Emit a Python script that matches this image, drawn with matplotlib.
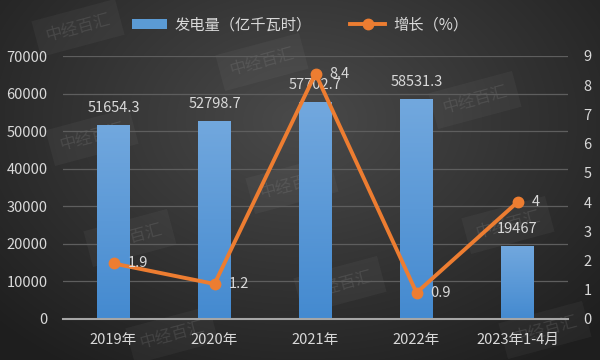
import numpy as np
import matplotlib
matplotlib.use("Agg")
import matplotlib.pyplot as plt
from matplotlib.lines import Line2D
from matplotlib.patches import Patch

plt.rcParams['font.family'] = ['Noto Sans CJK SC', 'DejaVu Sans']

categories = ["2019年", "2020年", "2021年", "2022年", "2023年1-4月"]
generation = [51654.3, 52798.7, 57702.7, 58531.3, 19467]
growth = [1.9, 1.2, 8.4, 0.9, 4]
bar_labels = ["51654.3", "52798.7", "57702.7", "58531.3", "19467"]
growth_labels = ["1.9", "1.2", "8.4", "0.9", "4"]
legend_bar = "发电量（亿千瓦时）"
legend_line = "增长（%）"

TXT = "#d9d9d9"
ORANGE = "#ed7d31"

fig = plt.figure(figsize=(6, 3.6), dpi=100)

# background radial gradient
bg = fig.add_axes([0, 0, 1, 1], zorder=-10)
yy, xx = np.mgrid[0:360, 0:600]
r = np.sqrt(((xx - 300) / 420.0) ** 2 + ((yy - 120) / 300.0) ** 2)
r = np.clip(r, 0, 1)
c0 = np.array([0x4a, 0x4a, 0x4a]) / 255
c1 = np.array([0x1e, 0x1e, 0x1e]) / 255
img = c0[None, None, :] * (1 - r[..., None]) + c1[None, None, :] * r[..., None]
bg.imshow(img, aspect='auto', extent=[0, 1, 0, 1])
bg.axis('off')

# watermarks
wm_pos = [(78, 28), (262, 62), (92, 137), (292, 185), (130, 238), (172, 335),
          (475, 100), (340, 285), (508, 225), (545, 330)]
for (px, py) in wm_pos:
    fig.text(px / 600, 1 - py / 360, "中经百汇", rotation=15, ha='center', va='center',
             fontsize=12, color=(0.55, 0.55, 0.55, 0.22), zorder=-5,
             bbox=dict(boxstyle='square,pad=0.6', facecolor=(1, 1, 1, 0.04), edgecolor='none'))

ax = fig.add_axes([63 / 600, 1 - 319 / 360, 505 / 600, 263 / 360])
ax.patch.set_alpha(0)
x = np.arange(len(categories))
bars = ax.bar(x, generation, width=0.32, color="#5b9bd5", zorder=2)

# gradient fill for bars
grad = np.linspace(0, 1, 100)[:, None]
top_c = np.array([0x72, 0xa8, 0xde]) / 255
bot_c = np.array([0x44, 0x8a, 0xd0]) / 255
gimg = top_c[None, None, :] * (1 - grad[..., None]) + bot_c[None, None, :] * grad[..., None]
for b in bars:
    bx, by = b.get_x(), b.get_y()
    w, h = b.get_width(), b.get_height()
    im = ax.imshow(gimg, aspect='auto', extent=[bx, bx + w, by, by + h], zorder=2.1)
    im.set_clip_path(b)

ax.set_xlim(-0.5, len(categories) - 0.5)
ax.set_ylim(0, 70000)
ax.set_yticks(np.arange(0, 70001, 10000))
ax.yaxis.grid(True, color="#5e5e5e", linewidth=0.9, zorder=0)
ax.set_axisbelow(True)
for s in ['top', 'right', 'left']:
    ax.spines[s].set_visible(False)
ax.spines['bottom'].set_color("#a6a6a6")
ax.spines['bottom'].set_linewidth(1.5)
ax.spines['bottom'].set_zorder(3)
ax.set_xticks(x)
ax.set_xticklabels(categories)
ax.tick_params(axis='x', length=0, pad=10, colors=TXT, labelsize=10.5)
ax.tick_params(axis='y', length=0, pad=11, colors=TXT, labelsize=10.5)

for xi, v, lab in zip(x, generation, bar_labels):
    ax.annotate(lab, (xi, v), xytext=(0, 7), textcoords='offset points',
                ha='center', va='bottom', color=TXT, fontsize=10.5, zorder=5)

ax2 = ax.twinx()
ax2.set_ylim(0, 9)
ax2.set_yticks(np.arange(0, 10, 1))
for s in ax2.spines.values():
    s.set_visible(False)
ax2.tick_params(axis='y', length=0, pad=11, colors=TXT, labelsize=10.5)
ax2.plot(x, growth, color=ORANGE, linewidth=2.8, marker='o', markersize=7.5, zorder=6)
for xi, v, lab in zip(x, growth, growth_labels):
    ax2.annotate(lab, (xi, v), xytext=(10, 0), textcoords='offset points',
                 ha='left', va='center', color=TXT, fontsize=10.5, zorder=7)

handles = [Patch(facecolor="#5b9bd5", edgecolor="none"),
           Line2D([0], [0], color=ORANGE, lw=2.8, marker='o', markersize=7.5)]
leg = fig.legend(handles, [legend_bar, legend_line], loc='center', bbox_to_anchor=(0.5, 1 - 25 / 360),
                 ncol=2, frameon=False, fontsize=11, labelcolor=TXT, handlelength=2.3,
                 handleheight=0.6, columnspacing=2.5, handletextpad=0.5)

fig.savefig("out.png", dpi=100)
